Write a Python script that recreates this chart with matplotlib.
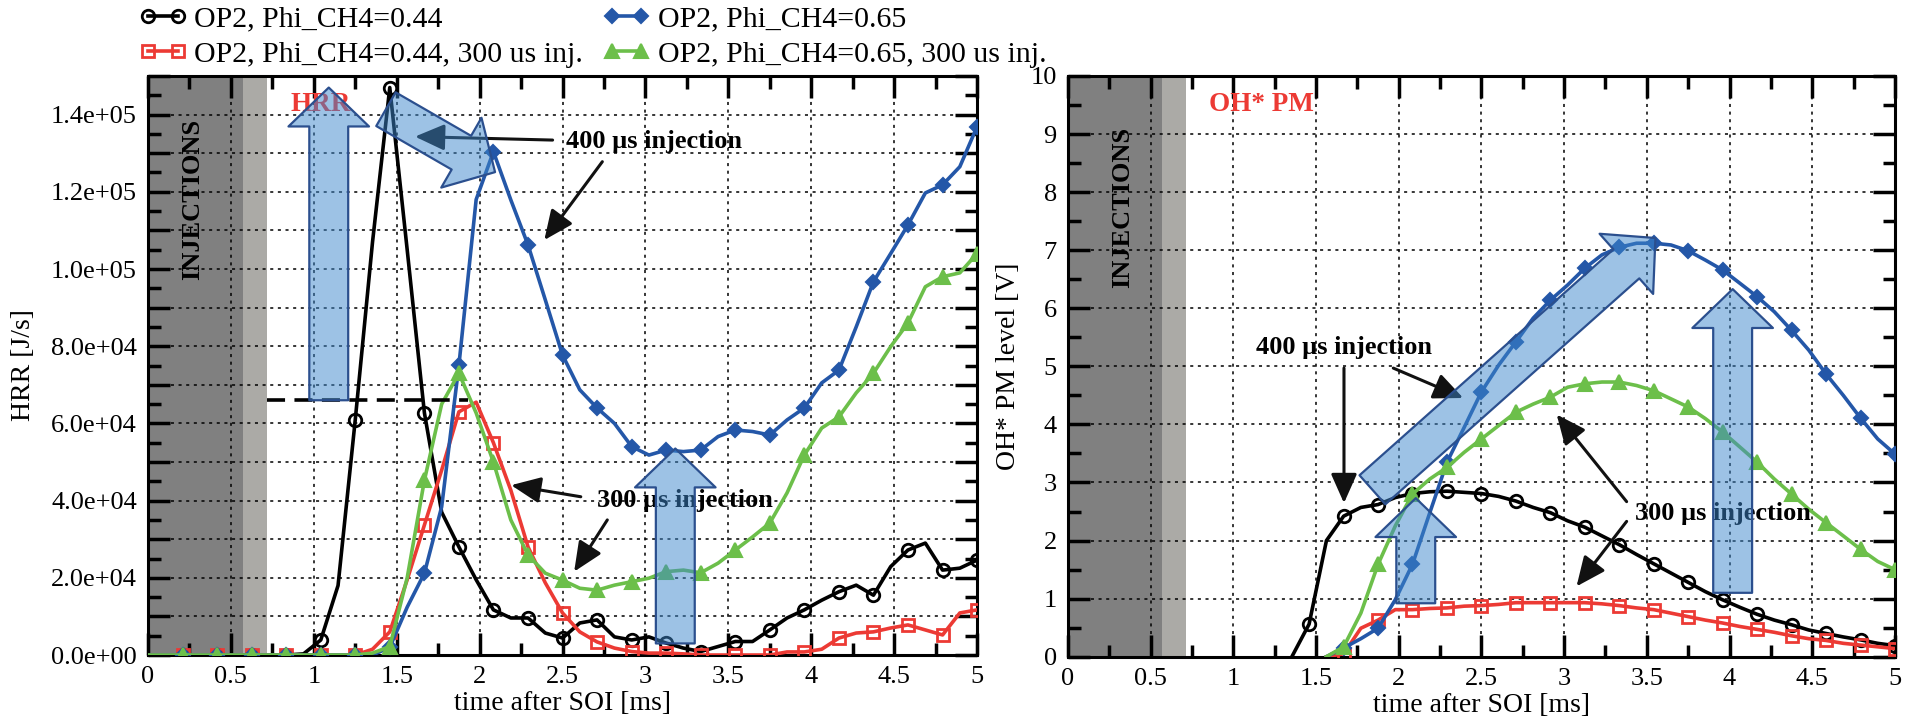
import matplotlib
matplotlib.use('Agg')
import numpy as np
import matplotlib.pyplot as plt
from matplotlib.ticker import MultipleLocator, FuncFormatter

plt.rcParams['font.family'] = ['Liberation Serif', 'DejaVu Serif']

# time after SOI [ms]
t = [0.000, 0.104, 0.208, 0.313, 0.417, 0.521, 0.625, 0.729, 0.833, 0.938,
     1.042, 1.146, 1.250, 1.354, 1.458, 1.563, 1.667, 1.771, 1.875, 1.979,
     2.083, 2.188, 2.292, 2.396, 2.500, 2.604, 2.708, 2.813, 2.917, 3.021,
     3.125, 3.229, 3.333, 3.438, 3.542, 3.646, 3.750, 3.854, 3.958, 4.063,
     4.167, 4.271, 4.375, 4.479, 4.583, 4.688, 4.792, 4.896, 5.000]

# HRR [J/s]
hrr_044 = [0, 0, 0, 0, 0, 0, 0, 0, 0, 300,
           3900, 18000, 61000, 107000, 147000, 105000, 62700, 37000, 28000, 19500,
           11700, 9600, 9600, 5700, 4400, 8300, 9100, 4700, 3900, 4700,
           3100, 1800, 900, 2200, 3500, 3500, 6500, 9600, 11700, 14200,
           16400, 18100, 15500, 22900, 27200, 29000, 22000, 22500, 24600]
hrr_044_300 = [0, 0, 0, 0, 0, 0, 0, 0, 0, 0,
               0, 0, 0, 1500, 6000, 19500, 33700, 47900, 63000, 65500,
               55000, 42700, 28000, 18700, 10900, 6000, 3400, 1800, 900, 500,
               500, 300, 0, 0, 0, 0, 0, 800, 800, 1500,
               4400, 5700, 6000, 7000, 7800, 6500, 5200, 10900, 11700]
hrr_065 = [0, 0, 0, 0, 0, 0, 0, 0, 0, 0,
           0, 0, 0, 0, 2000, 12400, 21200, 38400, 75100, 118000,
           130400, 117900, 106200, 92000, 77700, 68700, 64000, 60000, 54000, 51800,
           53100, 52700, 53100, 56600, 58300, 57900, 57000, 60900, 64000, 70500,
           73800, 85000, 96700, 104000, 111400, 119700, 121800, 126500, 136900]
hrr_065_300 = [0, 0, 0, 0, 0, 0, 0, 0, 0, 0,
               0, 0, 0, 500, 2200, 20000, 45300, 65000, 73000, 62700,
               50000, 35000, 25900, 21200, 19400, 17300, 16800, 18100, 19000, 19900,
               21600, 22000, 21300, 23800, 27200, 30600, 34200, 42000, 51800, 58800,
               61700, 67900, 73000, 79900, 86000, 95400, 98000, 99000, 104000]

# OH* PM level [V]
nan = np.nan
oh_044 = [nan] * 13 + [0.0, 0.56, 2.0, 2.42, 2.57, 2.62, 2.74,
                       2.81, 2.84, 2.85, 2.83, 2.81, 2.76, 2.68, 2.57, 2.48, 2.34,
                       2.23, 2.08, 1.93, 1.76, 1.60, 1.44, 1.28, 1.12, 0.98, 0.85,
                       0.73, 0.63, 0.55, 0.46, 0.40, 0.34, 0.29, 0.23, 0.19]
oh_044_300 = [nan] * 15 + [0.0, 0.05, 0.49, 0.63, 0.81,
                           0.81, 0.83, 0.84, 0.87, 0.88, 0.90, 0.93, 0.93, 0.93, 0.93,
                           0.93, 0.91, 0.88, 0.84, 0.81, 0.75, 0.69, 0.63, 0.58, 0.52,
                           0.47, 0.42, 0.36, 0.31, 0.28, 0.23, 0.20, 0.17, 0.14]
oh_065 = [nan] * 15 + [0.0, 0.15, 0.31, 0.49, 0.98,
                       1.59, 2.48, 3.35, 3.95, 4.56, 5.02, 5.42, 5.83, 6.14, 6.40,
                       6.69, 6.92, 7.05, 7.12, 7.12, 7.09, 6.99, 6.83, 6.66, 6.43,
                       6.20, 5.94, 5.62, 5.28, 4.87, 4.50, 4.11, 3.75, 3.49]
oh_065_300 = [nan] * 15 + [0.0, 0.17, 0.75, 1.59, 2.25,
                           2.80, 3.06, 3.26, 3.52, 3.75, 3.98, 4.21, 4.35, 4.47, 4.64,
                           4.70, 4.73, 4.73, 4.67, 4.58, 4.44, 4.30, 4.10, 3.87, 3.61,
                           3.35, 3.06, 2.80, 2.54, 2.31, 2.08, 1.85, 1.64, 1.50]

labels = ['OP2, Phi_CH4=0.44', 'OP2, Phi_CH4=0.44, 300 us inj.',
          'OP2, Phi_CH4=0.65', 'OP2, Phi_CH4=0.65, 300 us inj.']

inj_dark = (0.0, 0.57)
inj_light = (0.57, 0.715)
hrr_peak_300 = 66000

BLACK = 'black'
RED = '#ec3a34'
BLUE = '#2457a8'
GREEN = '#6cbf4a'
styles = [
    dict(color=BLACK, marker='o', ms=9, mfc='none', mec=BLACK, mew=2),
    dict(color=RED, marker='s', ms=8, mfc='none', mec=RED, mew=2),
    dict(color=BLUE, marker='D', ms=7.5, mfc=BLUE, mec=BLUE, mew=1.5),
    dict(color=GREEN, marker='^', ms=10, mfc=GREEN, mec=GREEN, mew=1.5),
]

ARROW_FC = (0.24, 0.53, 0.80, 0.5)
ARROW_EC = '#2b4f8e'


def block_arrow(ax, tail, tip):
    ax.annotate('', xy=tip, xytext=tail, zorder=5,
                arrowprops=dict(arrowstyle='simple,head_length=28,head_width=58,tail_width=28',
                                mutation_scale=1, fc=ARROW_FC, ec=ARROW_EC, lw=1.6,
                                shrinkA=0, shrinkB=0))


def thin_arrow(ax, start, tip):
    ax.annotate('', xy=tip, xytext=start, zorder=4.5,
                arrowprops=dict(arrowstyle='-|>,head_length=18,head_width=8',
                                mutation_scale=1, fc='#111111', ec='#111111', lw=2.2,
                                shrinkA=0, shrinkB=0))


def style_axes(ax, ymajor, yminor):
    ax.set_xlim(0, 5)
    ax.xaxis.set_major_locator(MultipleLocator(0.5))
    ax.xaxis.set_minor_locator(MultipleLocator(0.25))
    ax.yaxis.set_major_locator(MultipleLocator(ymajor))
    ax.yaxis.set_minor_locator(MultipleLocator(yminor))
    ax.xaxis.set_major_formatter(FuncFormatter(lambda v, p: '%g' % v))
    ax.tick_params(which='both', direction='in', top=True, right=True, width=2.5,
                   labelsize=19, pad=8)
    ax.tick_params(which='major', length=16)
    ax.tick_params(which='minor', length=9)
    for s in ax.spines.values():
        s.set_linewidth(2.2)
    ax.grid(True, which='major', color='black', ls=(0, (2, 3)), lw=1.1)
    ax.axvspan(*inj_dark, color='#808080', lw=0, zorder=0.5)
    ax.axvspan(*inj_light, color='#abaaa6', lw=0, zorder=0.5)
    ax.set_xlabel('time after SOI [ms]', fontsize=20)
    ax.xaxis.set_label_coords(0.5, -0.062)


fig = plt.figure(figsize=(19.05, 7.21), dpi=100)
ax1 = fig.add_axes([0.0777, 0.0915, 0.4352, 0.8031])
ax2 = fig.add_axes([0.5606, 0.0892, 0.4341, 0.8054])

# ---- HRR
handles = []
for ys, st in zip([hrr_044, hrr_044_300, hrr_065, hrr_065_300], styles):
    ln, = ax1.plot(t, ys, lw=2.6, markevery=slice(2, None, 2), zorder=3, **st)
    handles.append(ln)
style_axes(ax1, 10000, 5000)
ax1.set_ylim(0, 150000)
ax1.yaxis.set_major_formatter(FuncFormatter(
    lambda v, p: ('%.1e' % v) if round(v / 10000) % 2 == 0 else ''))
ax1.set_ylabel('HRR [J/s]', fontsize=20)
ax1.yaxis.set_label_coords(-0.135, 0.5)
ax1.hlines(hrr_peak_300, 0.72, 1.93, colors='black', lw=2.6, linestyles=(0, (5, 2.6)), zorder=3)

ax1.text(0.27, 118000, 'INJECTIONS', rotation=90, ha='center', va='center',
         fontsize=19, fontweight='bold', zorder=2)
ax1.text(1.04, 142500, 'HRR', color=RED, ha='center', va='center',
         fontsize=19.5, fontweight='bold', zorder=4)
ax1.text(3.05, 133000, '400 µs injection', ha='center', va='center',
         fontsize=19, fontweight='bold', zorder=4)
ax1.text(3.24, 40100, '300 µs injection', ha='center', va='center',
         fontsize=19, fontweight='bold', zorder=4)

thin_arrow(ax1, (2.44, 133400), (1.61, 134300))
thin_arrow(ax1, (2.74, 127800), (2.39, 107500))
thin_arrow(ax1, (2.61, 41000), (2.19, 44000))
thin_arrow(ax1, (2.77, 35000), (2.57, 21600))

block_arrow(ax1, (1.09, 66000), (1.09, 147000))
block_arrow(ax1, (1.435, 141400), (2.093, 125100))
block_arrow(ax1, (3.18, 3000), (3.18, 53500))

# ---- OH* PM
for ys, st in zip([oh_044, oh_044_300, oh_065, oh_065_300], styles):
    ax2.plot(t, ys, lw=2.6, markevery=slice(2, None, 2), zorder=3, **st)
style_axes(ax2, 1, 0.5)
ax2.set_ylim(0, 10)
ax2.yaxis.set_major_formatter(FuncFormatter(lambda v, p: '%d' % round(v)))
ax2.set_ylabel('OH* PM level [V]', fontsize=20)
ax2.yaxis.set_label_coords(-0.057, 0.5)

ax2.text(0.33, 7.74, 'INJECTIONS', rotation=90, ha='center', va='center',
         fontsize=19, fontweight='bold', zorder=2)
ax2.text(1.17, 9.51, 'OH* PM', color=RED, ha='center', va='center',
         fontsize=19.5, fontweight='bold', zorder=4)
ax2.text(1.67, 5.32, '400 µs injection', ha='center', va='center',
         fontsize=19, fontweight='bold', zorder=4)
ax2.text(3.96, 2.47, '300 µs injection', ha='center', va='center',
         fontsize=19, fontweight='bold', zorder=4)

thin_arrow(ax2, (1.967, 4.97), (2.39, 4.455))
thin_arrow(ax2, (1.669, 4.97), (1.669, 2.645))
thin_arrow(ax2, (3.378, 2.67), (2.955, 4.17))
thin_arrow(ax2, (3.378, 2.33), (3.075, 1.21))

block_arrow(ax2, (1.841, 2.874), (3.552, 7.21))
block_arrow(ax2, (4.019, 1.10), (4.019, 6.33))
block_arrow(ax2, (2.103, 0.92), (2.103, 2.73))

fig.legend(handles, labels, loc='upper left', bbox_to_anchor=(0.073, 0.992), ncol=2,
           frameon=False, fontsize=21.5, numpoints=2, handlelength=1.6,
           handletextpad=0.25, columnspacing=0.65, labelspacing=0.28,
           borderaxespad=0, borderpad=0)

fig.savefig('out.png', dpi=100)
